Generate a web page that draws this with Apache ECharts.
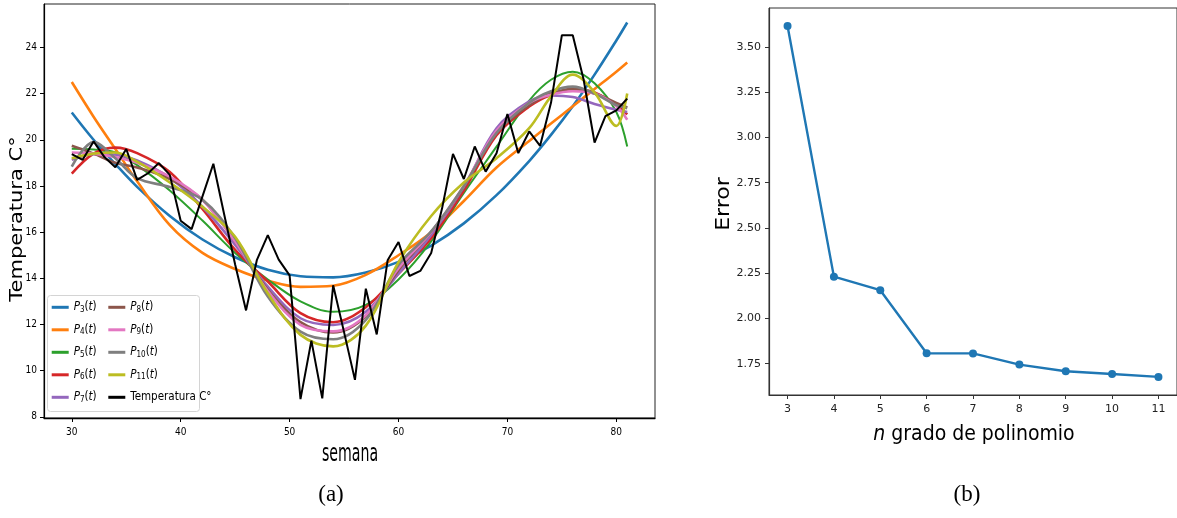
<!DOCTYPE html>
<html>
<head>
<meta charset="utf-8">
<script src="https://cdn.jsdelivr.net/npm/echarts@6/dist/echarts.min.js"></script>
<style>
  html, body { margin: 0; padding: 0; background: #ffffff; }
  #chart { width: 1177px; height: 518px; }
</style>
</head>
<body>
<div id="chart"></div>
<script>
// ---- (a) weekly temperature and polynomial fits ----
const semanas = [30, 31, 32, 33, 34, 35, 36, 37, 38, 39, 40, 41, 42, 43, 44, 45, 46, 47, 48, 49,
                 50, 51, 52, 53, 54, 55, 56, 57, 58, 59, 60, 61, 62, 63, 64, 65, 66, 67, 68, 69,
                 70, 71, 72, 73, 74, 75, 76, 77, 78, 79, 80, 81];
const temperatura = [19.38, 19.13, 19.93, 19.25, 18.81, 19.60, 18.26, 18.55, 18.99, 18.48,
                     16.49, 16.13, 17.55, 18.96, 16.75, 14.60, 12.61, 14.80, 15.87, 14.81,
                     14.13, 8.77, 11.30, 8.80, 13.70, 11.67, 9.60, 13.55, 11.57, 14.78,
                     15.57, 14.10, 14.32, 15.10, 17.03, 19.39, 18.30, 19.71, 18.62, 19.42,
                     21.12, 19.42, 20.36, 19.74, 21.60, 24.53, 24.53, 22.60, 19.88, 21.02,
                     21.27, 21.78];

// weeks at which the fitted curves are sampled
const semanasAjuste = [30, 32, 34, 36, 39, 42, 45, 48, 51, 54, 57, 60, 63, 66, 69, 72, 74, 76, 78, 80, 81];
const p3  = [21.18, 20.00, 18.95, 17.96, 16.70, 15.68, 14.91, 14.37, 14.09, 14.04, 14.25, 14.71, 15.42, 16.38, 17.60, 19.08, 20.21, 21.45, 22.82, 24.30, 25.08];
const p4  = [22.50, 21.00, 19.60, 18.20, 16.30, 15.10, 14.40, 13.90, 13.63, 13.68, 14.15, 15.00, 16.00, 17.35, 18.80, 19.95, 20.70, 21.45, 22.20, 22.95, 23.35];
const p5  = [19.61, 19.58, 19.45, 18.90, 17.80, 16.50, 15.10, 13.95, 13.00, 12.55, 12.85, 13.95, 15.60, 17.70, 19.70, 21.70, 22.60, 22.95, 22.45, 21.20, 19.71];
const p6  = [18.53, 19.40, 19.66, 19.42, 18.60, 17.00, 15.23, 13.86, 12.49, 12.10, 12.75, 14.20, 15.74, 17.80, 20.20, 21.44, 21.95, 22.20, 22.05, 21.50, 21.10];
const p7  = [19.13, 19.38, 19.35, 19.10, 18.35, 17.10, 15.45, 13.64, 12.27, 11.98, 12.55, 14.20, 15.88, 17.95, 20.50, 21.66, 21.92, 21.85, 21.55, 21.30, 21.20];
const p8  = [19.74, 19.40, 19.00, 18.80, 18.30, 17.40, 15.60, 13.50, 12.10, 11.65, 12.35, 14.35, 16.00, 17.95, 20.30, 21.50, 22.00, 22.20, 22.00, 21.60, 21.40];
const p9  = [19.45, 19.40, 19.25, 19.00, 18.40, 17.40, 15.59, 13.45, 11.98, 11.70, 12.40, 14.44, 16.00, 18.00, 20.40, 21.60, 21.95, 22.10, 22.00, 21.45, 20.87];
const p10 = [18.84, 19.90, 19.20, 18.34, 17.95, 17.40, 15.74, 13.21, 11.69, 11.36, 12.20, 14.58, 16.03, 18.00, 20.30, 21.60, 22.10, 22.30, 22.00, 21.50, 21.37];
const p11 = [19.20, 19.40, 19.45, 19.05, 18.15, 17.10, 15.80, 13.35, 11.55, 11.05, 11.95, 14.70, 16.70, 18.15, 19.20, 20.50, 21.88, 22.82, 22.05, 20.60, 22.00];

const ticksSemana = [30, 40, 50, 60, 70, 80];
const ticksTemp = [8, 10, 12, 14, 16, 18, 20, 22, 24];

// ---- (b) fit error by polynomial degree ----
const grados = [3, 4, 5, 6, 7, 8, 9, 10, 11];
const errores = [3.616, 2.231, 2.156, 1.808, 1.807, 1.745, 1.708, 1.693, 1.677];
const ticksGrado = [3, 4, 5, 6, 7, 8, 9, 10, 11];
const ticksError = [1.75, 2.00, 2.25, 2.50, 2.75, 3.00, 3.25, 3.50];

const NARROW = "'Liberation Sans Narrow', 'DejaVu Sans Condensed', 'Roboto Condensed', sans-serif";
const SANS = "'DejaVu Sans', sans-serif";

const ajustes = [
  { name: 'P3(t)',  data: p3,  color: '#1f77b4' },
  { name: 'P4(t)',  data: p4,  color: '#ff7f0e' },
  { name: 'P5(t)',  data: p5,  color: '#2ca02c', width: 2 },
  { name: 'P6(t)',  data: p6,  color: '#d62728' },
  { name: 'P7(t)',  data: p7,  color: '#9467bd' },
  { name: 'P8(t)',  data: p8,  color: '#8c564b' },
  { name: 'P9(t)',  data: p9,  color: '#e377c2' },
  { name: 'P10(t)', data: p10, color: '#7f7f7f' },
  { name: 'P11(t)', data: p11, color: '#bcbd22' }
];

const series = ajustes.map(a => ({
  name: a.name,
  type: 'line',
  xAxisIndex: 0, yAxisIndex: 0,
  data: semanasAjuste.map((w, i) => [w, a.data[i]]),
  smooth: 0.35,
  symbol: 'none',
  color: a.color,
  lineStyle: { color: a.color, width: a.width || 2.6 },
  emphasis: { disabled: true }
}));

series.push({
  name: 'Temperatura C°',
  type: 'line',
  xAxisIndex: 0, yAxisIndex: 0,
  data: semanas.map((w, i) => [w, temperatura[i]]),
  symbol: 'none',
  color: '#000000',
  lineStyle: { color: '#000000', width: 2 },
  emphasis: { disabled: true }
});

series.push({
  name: 'Error',
  type: 'line',
  xAxisIndex: 1, yAxisIndex: 1,
  data: grados.map((g, i) => [g, errores[i]]),
  symbol: 'circle',
  symbolSize: 8,
  color: '#1f77b4',
  lineStyle: { color: '#1f77b4', width: 2.4 },
  itemStyle: { color: '#1f77b4' },
  emphasis: { disabled: true }
});

const legendRich = {
  i: { fontFamily: NARROW, fontSize: 11.5, fontStyle: 'italic', color: '#000', lineHeight: 14 },
  n: { fontFamily: NARROW, fontSize: 11.5, color: '#000', lineHeight: 14 },
  s: { fontFamily: NARROW, fontSize: 8, color: '#000', lineHeight: 14, padding: [5, 0, 0, 0] }
};
function legendLabel(name) {
  const m = name.match(/^P(\d+)\(t\)$/);
  return m ? '{i|P}{s|' + m[1] + '}{n|(}{i|t}{n|)}' : name;
}
function legendCol(names, left) {
  return {
    data: names,
    orient: 'vertical',
    left: left, top: 300.3,
    padding: 0,
    itemGap: 8.5,
    itemWidth: 17, itemHeight: 3,
    icon: 'rect',
    selectedMode: false,
    z: 20,
    formatter: legendLabel,
    textStyle: { fontFamily: NARROW, fontSize: 11.5, color: '#000', lineHeight: 14, rich: legendRich }
  };
}

const chart = echarts.init(document.getElementById('chart'), null, { renderer: 'canvas' });
chart.setOption({
  animation: false,
  backgroundColor: '#ffffff',
  grid: [
    { left: 44, top: 4, width: 611, height: 414, show: true, borderColor: '#222', borderWidth: 1, backgroundColor: 'transparent' },
    { left: 769, top: 8, width: 411, height: 387, show: true, borderColor: '#333', borderWidth: 1, backgroundColor: 'transparent' }
  ],
  xAxis: [
    {
      gridIndex: 0, type: 'value', min: 27.45, max: 83.55,
      splitLine: { show: false },
      axisLine: { onZero: false, lineStyle: { color: '#000', width: 1.3 } },
      axisTick: { customValues: ticksSemana, length: 4, lineStyle: { color: '#000' } },
      axisLabel: { customValues: ticksSemana, fontFamily: NARROW, fontSize: 10, color: '#000', margin: 9 }
    },
    {
      gridIndex: 1, type: 'value', min: 2.6, max: 11.4,
      splitLine: { show: false },
      axisLine: { onZero: false, lineStyle: { color: '#333', width: 1.2 } },
      axisTick: { customValues: ticksGrado, length: 4, lineStyle: { color: '#333' } },
      axisLabel: { customValues: ticksGrado, fontFamily: SANS, fontSize: 11, color: '#222', margin: 9 }
    }
  ],
  yAxis: [
    {
      gridIndex: 0, type: 'value', min: 7.95, max: 25.88,
      splitLine: { show: false },
      axisLine: { onZero: false, lineStyle: { color: '#000', width: 1.2 } },
      axisTick: { customValues: ticksTemp, length: 4, lineStyle: { color: '#000' } },
      axisLabel: { customValues: ticksTemp, fontFamily: NARROW, fontSize: 10, color: '#000', margin: 7 }
    },
    {
      gridIndex: 1, type: 'value', min: 1.577, max: 3.7155,
      splitLine: { show: false },
      axisLine: { onZero: false, lineStyle: { color: '#333', width: 1.2 } },
      axisTick: { customValues: ticksError, length: 4, lineStyle: { color: '#333' } },
      axisLabel: { customValues: ticksError, fontFamily: SANS, fontSize: 11, color: '#222', margin: 8,
                   formatter: v => Number(v).toFixed(2) }
    }
  ],
  legend: [
    legendCol(['P3(t)', 'P4(t)', 'P5(t)', 'P6(t)', 'P7(t)'], 51.7),
    legendCol(['P8(t)', 'P9(t)', 'P10(t)', 'P11(t)', 'Temperatura C°'], 108.3)
  ],
  graphic: [
    { type: 'rect', z: 10, shape: { x: 47.5, y: 295.5, width: 152, height: 116, r: 3 },
      style: { fill: 'rgba(255,255,255,0.8)', stroke: '#d4d4d4', lineWidth: 1 } },
    { type: 'text', z: 30, x: 350, y: 455, scaleX: 0.59,
      style: { text: 'semana', fontFamily: SANS, fontSize: 24, fill: '#000', align: 'center', verticalAlign: 'middle' } },
    { type: 'text', z: 30, x: 17, y: 219, rotation: Math.PI / 2, scaleY: 0.85,
      style: { text: 'Temperatura C°', fontFamily: SANS, fontSize: 21, fill: '#000', align: 'center', verticalAlign: 'middle' } },
    { type: 'text', z: 30, x: 724, y: 204, rotation: Math.PI / 2, scaleY: 0.9,
      style: { text: 'Error', fontFamily: SANS, fontSize: 22, fill: '#000', align: 'center', verticalAlign: 'middle' } },
    { type: 'text', z: 30, x: 974, y: 435, scaleX: 0.9,
      style: { text: '{i|n} grado de polinomio', fontFamily: SANS, fontSize: 21, fill: '#000',
               align: 'center', verticalAlign: 'middle',
               rich: { i: { fontFamily: SANS, fontSize: 21, fontStyle: 'italic', fill: '#000' } } } },
    { type: 'text', z: 30, x: 331, y: 495,
      style: { text: '(a)', fontFamily: "'Liberation Serif', 'DejaVu Serif', serif", fontSize: 23, fill: '#000', align: 'center', verticalAlign: 'middle' } },
    { type: 'text', z: 30, x: 967, y: 495,
      style: { text: '(b)', fontFamily: "'Liberation Serif', 'DejaVu Serif', serif", fontSize: 23, fill: '#000', align: 'center', verticalAlign: 'middle' } }
  ],
  series: series
});
</script>
</body>
</html>
